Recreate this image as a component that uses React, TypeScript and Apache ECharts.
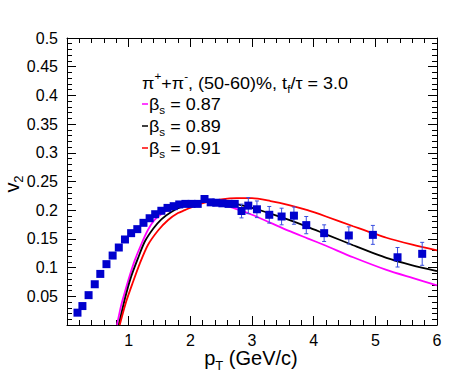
import React, { useEffect, useRef } from "react";
import * as echarts from "echarts";

// Data points (pT in GeV/c, v2 and its error)
const ptData = [0.17, 0.25, 0.35, 0.45, 0.54, 0.64, 0.74, 0.84, 0.94, 1.04, 1.14, 1.24, 1.34, 1.43, 1.53, 1.63, 1.73, 1.82, 1.92, 2.02, 2.12, 2.23, 2.33, 2.42, 2.52, 2.62, 2.72, 2.83, 2.94, 3.08, 3.28, 3.48, 3.68, 3.88, 4.17, 4.57, 4.96, 5.36, 5.76];
const v2Data = [0.0215, 0.033, 0.052, 0.071, 0.089, 0.106, 0.121, 0.135, 0.149, 0.16, 0.167, 0.178, 0.186, 0.193, 0.199, 0.204, 0.207, 0.21, 0.211, 0.211, 0.211, 0.2195, 0.2137, 0.213, 0.212, 0.211, 0.211, 0.1986, 0.208, 0.2016, 0.192, 0.189, 0.1905, 0.174, 0.16, 0.156, 0.157, 0.118, 0.124];
const v2Err = [0.002, 0.002, 0.002, 0.002, 0.002, 0.002, 0.002, 0.002, 0.002, 0.002, 0.002, 0.002, 0.002, 0.002, 0.002, 0.002, 0.002, 0.002, 0.002, 0.002, 0.002, 0.003, 0.005, 0.005, 0.005, 0.005, 0.005, 0.012, 0.014, 0.0145, 0.0145, 0.0145, 0.015, 0.015, 0.0145, 0.015, 0.0165, 0.017, 0.02];

// Model curves
const beta087Pt = [0.81, 0.88, 0.94, 1.02, 1.1, 1.21, 1.31, 1.42, 1.58, 1.75, 1.91, 2.04, 2.2, 2.4, 2.6, 2.8, 3.0, 3.3, 3.6, 3.9, 4.2, 4.64, 5.18, 5.6, 6.0];
const beta087V2 = [0, 0.035, 0.058, 0.087, 0.113, 0.142, 0.165, 0.183, 0.197, 0.205, 0.211, 0.214, 0.215, 0.212, 0.207, 0.2, 0.192, 0.178, 0.164, 0.151, 0.138, 0.118, 0.096, 0.082, 0.069];

const beta089Pt = [0.84, 0.94, 1.04, 1.15, 1.26, 1.4, 1.53, 1.69, 1.88, 2.1, 2.3, 2.5, 2.7, 3.0, 3.3, 3.6, 3.9, 4.2, 4.64, 5.18, 5.6, 6.0];
const beta089V2 = [0, 0.046, 0.084, 0.116, 0.145, 0.168, 0.184, 0.197, 0.207, 0.214, 0.217, 0.216, 0.212, 0.204, 0.194, 0.183, 0.171, 0.158, 0.139, 0.117, 0.104, 0.094];

const beta091Pt = [0.855, 0.96, 1.07, 1.18, 1.31, 1.48, 1.64, 1.8, 1.91, 2.1, 2.3, 2.5, 2.75, 3.0, 3.3, 3.6, 3.9, 4.2, 4.64, 5.18, 5.6, 6.0];
const beta091V2 = [0, 0.041, 0.075, 0.107, 0.139, 0.165, 0.183, 0.195, 0.2, 0.209, 0.215, 0.219, 0.221, 0.221, 0.216, 0.209, 0.2, 0.189, 0.172, 0.152, 0.14, 0.13];

const legendLabels = ["0.87", "0.89", "0.91"];
const curveColors = ["#ff00ff", "#000000", "#ff0000"];

const FONT = "Liberation Sans";

function pairs(xs: number[], ys: number[]) {
  return xs.map((x, i) => [x, ys[i]]);
}

export default function App() {
  const ref = useRef<HTMLDivElement>(null);
  useEffect(() => {
    if (!ref.current) return;
    const chart = echarts.init(ref.current, undefined, { renderer: "svg" });
    const axisLine = { show: true, onZero: false, lineStyle: { color: "#000", width: 1 } };
    const fmt = (v: number) => (Math.abs(v) < 1e-9 ? "" : String(parseFloat(v.toFixed(2))));
    const errColor = "#3a4fe0";
    const legendRows = legendLabels.map((lab, i) => ({
      y: 104 + i * 22,
      label: lab,
      color: curveColors[i],
    }));
    const graphics: any[] = [
      {
        type: "text",
        x: 142,
        y: 83,
        scaleX: 1.06,
        style: {
          text: "{n|π}{sup|+}{n|+π}{sup|-}{n|, (50-60)%, t}{sub|f}{n|/τ = 3.0}",
          verticalAlign: "middle",
          fill: "#000",
          rich: {
            n: { fontFamily: FONT, fontSize: 17, lineHeight: 24, fill: "#000", verticalAlign: "middle" },
            sup: { fontFamily: FONT, fontSize: 11, lineHeight: 12, fill: "#000", verticalAlign: "top" },
            sub: { fontFamily: FONT, fontSize: 11, lineHeight: 12, fill: "#000", verticalAlign: "bottom" },
          },
        },
      },
      {
        type: "text",
        x: 12,
        y: 184,
        rotation: Math.PI / 2,
        style: {
          text: "{n|v}{sub|2}",
          align: "center",
          verticalAlign: "middle",
          rich: {
            n: { fontFamily: FONT, fontSize: 20, lineHeight: 26, fill: "#000", verticalAlign: "middle" },
            sub: { fontFamily: FONT, fontSize: 13, lineHeight: 14, fill: "#000", verticalAlign: "bottom" },
          },
        },
      },
      {
        type: "text",
        x: 251,
        y: 358,
        style: {
          text: "{n|p}{sub|T}{n| (GeV/c)}",
          align: "center",
          verticalAlign: "middle",
          rich: {
            n: { fontFamily: FONT, fontSize: 20, lineHeight: 28, fill: "#000", verticalAlign: "middle" },
            sub: { fontFamily: FONT, fontSize: 13, lineHeight: 14, fill: "#000", verticalAlign: "bottom" },
          },
        },
      },
    ];
    legendRows.forEach((r) => {
      graphics.push({
        type: "line",
        shape: { x1: 142, y1: r.y, x2: 148, y2: r.y },
        style: { stroke: r.color, lineWidth: 1.5 },
      });
      graphics.push({
        type: "text",
        x: 149,
        y: r.y,
        scaleX: 1.06,
        style: {
          text: "{n|β}{sub|s}{n| = " + r.label + "}",
          verticalAlign: "middle",
          rich: {
            n: { fontFamily: FONT, fontSize: 17, lineHeight: 24, fill: "#000", verticalAlign: "middle" },
            sub: { fontFamily: FONT, fontSize: 11, lineHeight: 12, fill: "#000", verticalAlign: "bottom" },
          },
        },
      });
    });

    const tick = { show: true, inside: true, length: 9, lineStyle: { color: "#000", width: 1 } };
    const minor = { show: true, splitNumber: 5, length: 5, lineStyle: { color: "#000", width: 1 } };

    const option: any = {
      animation: false,
      backgroundColor: "#fff",
      grid: { left: 67, right: 12, top: 38, bottom: 58, containLabel: false },
      xAxis: [
        {
          type: "value",
          min: 0,
          max: 6,
          interval: 1,
          position: "bottom",
          axisLine,
          axisTick: tick,
          minorTick: minor,
          splitLine: { show: false },
          axisLabel: { formatter: fmt, color: "#000", fontFamily: FONT, fontSize: 16, margin: 7 },
        },
        {
          type: "value",
          min: 0,
          max: 6,
          interval: 1,
          position: "top",
          axisLine,
          axisTick: tick,
          minorTick: minor,
          splitLine: { show: false },
          axisLabel: { show: false },
        },
      ],
      yAxis: [
        {
          type: "value",
          min: 0,
          max: 0.5,
          interval: 0.05,
          position: "left",
          axisLine,
          axisTick: tick,
          minorTick: minor,
          splitLine: { show: false },
          axisLabel: { formatter: fmt, color: "#000", fontFamily: FONT, fontSize: 16, margin: 9 },
        },
        {
          type: "value",
          min: 0,
          max: 0.5,
          interval: 0.05,
          position: "right",
          axisLine,
          axisTick: tick,
          minorTick: minor,
          splitLine: { show: false },
          axisLabel: { show: false },
        },
      ],
      series: [
        ...[beta087Pt, beta089Pt, beta091Pt].map((xs, i) => ({
          type: "line",
          name: "βs = " + legendLabels[i],
          data: pairs(xs, [beta087V2, beta089V2, beta091V2][i]),
          showSymbol: false,
          smooth: 0.25,
          lineStyle: { color: curveColors[i], width: 1.8 },
          clip: true,
          z: 2,
        })),
        {
          type: "custom",
          name: "errors",
          data: ptData.map((p, i) => [p, v2Data[i], v2Err[i]]),
          encode: { x: 0, y: 1 },
          z: 3,
          renderItem: (params: any, api: any) => {
            const x = api.value(0);
            const y = api.value(1);
            const e = api.value(2);
            const t = api.coord([x, y + e]);
            const b = api.coord([x, y - e]);
            const st = { stroke: errColor, lineWidth: 1 };
            return {
              type: "group",
              children: [
                { type: "line", shape: { x1: t[0], y1: t[1], x2: b[0], y2: b[1] }, style: st },
                { type: "line", shape: { x1: t[0] - 2, y1: t[1], x2: t[0] + 2, y2: t[1] }, style: st },
                { type: "line", shape: { x1: b[0] - 2, y1: b[1], x2: b[0] + 2, y2: b[1] }, style: st },
              ],
            };
          },
        },
        {
          type: "scatter",
          name: "data",
          data: pairs(ptData, v2Data),
          symbol: "rect",
          symbolSize: 8,
          itemStyle: { color: "#0000cd", opacity: 1 },
          z: 4,
        },
      ],
      graphic: graphics,
    };
    chart.setOption(option);
    return () => chart.dispose();
  }, []);
  return (
    <div
      ref={ref}
      style={{ position: "fixed", left: 0, top: 0, width: 449, height: 383, background: "#fff" }}
    />
  );
}
